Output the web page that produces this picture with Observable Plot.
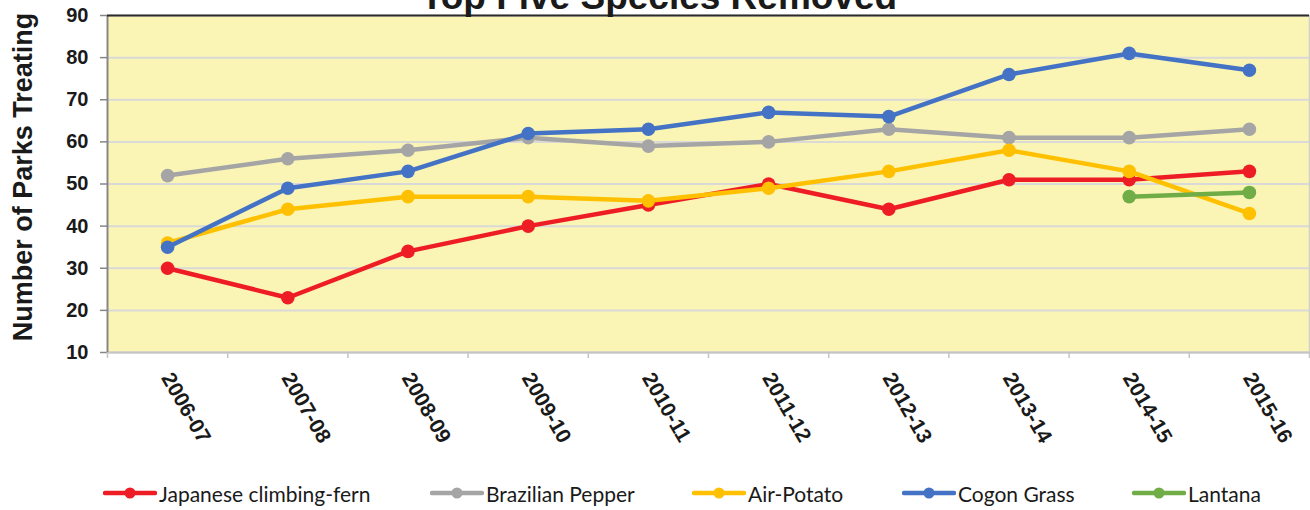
<!DOCTYPE html>
<html>
<head>
<meta charset="utf-8">
<script src="https://cdn.jsdelivr.net/npm/d3@7"></script>
<script src="https://cdn.jsdelivr.net/npm/@observablehq/plot@0.6"></script>
<style>
  html, body { margin: 0; padding: 0; background: #ffffff; }
  #wrap { position: relative; width: 1310px; height: 510px; overflow: hidden; font-family: "Liberation Sans", Arial, sans-serif; }
  #title { position: absolute; left: 0; width: 1318px; top: -21px; text-align: center; font-size: 37px; line-height: 36px; font-weight: bold; color: #1a1a1a; white-space: nowrap; }
  #chart { position: absolute; left: 0; top: 0; }
  #legend { position: absolute; left: 0; top: 480px; width: 1310px; height: 26px; }
  .item { position: absolute; top: 0; height: 26px; display: flex; align-items: center; font-family: Lato, "Open Sans", sans-serif; font-size: 21px; color: #1a1a1a; white-space: nowrap; }
  .item svg { display: block; margin-right: 2px; }
</style>
</head>
<body>
<div id="wrap">
  <div id="chart"></div>
  <div id="title">Top Five Species Removed</div>
  <div id="legend"></div>
</div>
<script>
const categories = ["2006-07", "2007-08", "2008-09", "2009-10", "2010-11", "2011-12", "2012-13", "2013-14", "2014-15", "2015-16"];
const japaneseClimbingFern = [30, 23, 34, 40, 45, 50, 44, 51, 51, 53];
const brazilianPepper = [52, 56, 58, 61, 59, 60, 63, 61, 61, 63];
const airPotato = [36, 44, 47, 47, 46, 49, 53, 58, 53, 43];
const cogonGrass = [35, 49, 53, 62, 63, 67, 66, 76, 81, 77];
const lantana = [null, null, null, null, null, null, null, null, 47, 48];
const seriesNames = ["Japanese climbing-fern", "Brazilian Pepper", "Air-Potato", "Cogon Grass", "Lantana"];
const seriesValues = [japaneseClimbingFern, brazilianPepper, airPotato, cogonGrass, lantana];
const seriesColors = ["#EE1D25", "#A5A5A5", "#FFC000", "#4472C4", "#70AD47"];
const yTicks = [10, 20, 30, 40, 50, 60, 70, 80, 90];
const yLabel = "Number of Parks Treating";
const legendLeft = [103, 430, 692, 902, 1132];

const idx = categories.map((c, i) => i);
const boundaries = [-0.5, ...idx.map(i => i + 0.5)];

const seriesMarks = seriesNames.flatMap((name, s) => {
  const rows = categories
    .map((c, i) => ({category: c, i, value: seriesValues[s][i], series: name}))
    .filter(d => d.value != null);
  return [
    Plot.line(rows, {x: "i", y: "value", stroke: seriesColors[s], strokeWidth: 4.5, strokeLinejoin: "round", strokeLinecap: "round"}),
    Plot.dot(rows, {x: "i", y: "value", fill: seriesColors[s], r: 6.8, stroke: "none"})
  ];
});

const chart = Plot.plot({
  width: 1310,
  height: 462,
  marginLeft: 107,
  marginRight: 1,
  marginTop: 15,
  marginBottom: 110,
  style: {fontFamily: "'Liberation Sans', Arial, sans-serif", color: "#1a1a1a", background: "transparent", overflow: "visible"},
  x: {domain: [-0.5, 9.5], axis: null},
  y: {domain: [10, 90], axis: null},
  marks: [
    Plot.frame({fill: "#FAF5B5", stroke: "none"}),
    Plot.gridY(yTicks, {stroke: "#D9D9D9", strokeOpacity: 1, strokeWidth: 2}),
    Plot.ruleY([10], {stroke: "#C4C4C4", strokeWidth: 2}),
    Plot.ruleX([9.5], {stroke: "#D0D0D0", strokeWidth: 1.5}),
    Plot.ruleX([-0.5], {stroke: "#878787", strokeWidth: 2}),
    Plot.ruleY([90], {stroke: "#2b2b2b", strokeWidth: 2}),
    Plot.axisY({ticks: yTicks, tickSize: 7, tickPadding: 12, stroke: "#878787", strokeWidth: 1.5, fill: "#1a1a1a", fontSize: 20, fontWeight: "bold", label: null}),
    Plot.axisX({ticks: boundaries, tickSize: 6, tickFormat: () => "", stroke: "#C4C4C4", strokeWidth: 1.5, label: null}),
    Plot.text(categories, {x: (d, i) => i, frameAnchor: "bottom", dy: 22, dx: -1, rotate: 60, textAnchor: "start", lineAnchor: "middle", fontSize: 21, fontWeight: "bold", fill: "#1a1a1a"}),
    Plot.text([yLabel], {frameAnchor: "left", dx: -84, dy: -7, rotate: -90, textAnchor: "middle", lineAnchor: "middle", fontSize: 27, fontWeight: "bold", fill: "#1a1a1a"}),
    ...seriesMarks
  ]
});
document.getElementById("chart").appendChild(chart);

const legend = document.getElementById("legend");
seriesNames.forEach((name, s) => {
  const item = document.createElement("div");
  item.className = "item";
  item.style.left = legendLeft[s] + "px";
  item.innerHTML = `<svg width="54" height="14"><line x1="2" y1="7" x2="52" y2="7" stroke="${seriesColors[s]}" stroke-width="4.5" stroke-linecap="round"/><circle cx="27" cy="7" r="5.5" fill="${seriesColors[s]}"/></svg><span>${name}</span>`;
  legend.appendChild(item);
});
</script>
</body>
</html>
